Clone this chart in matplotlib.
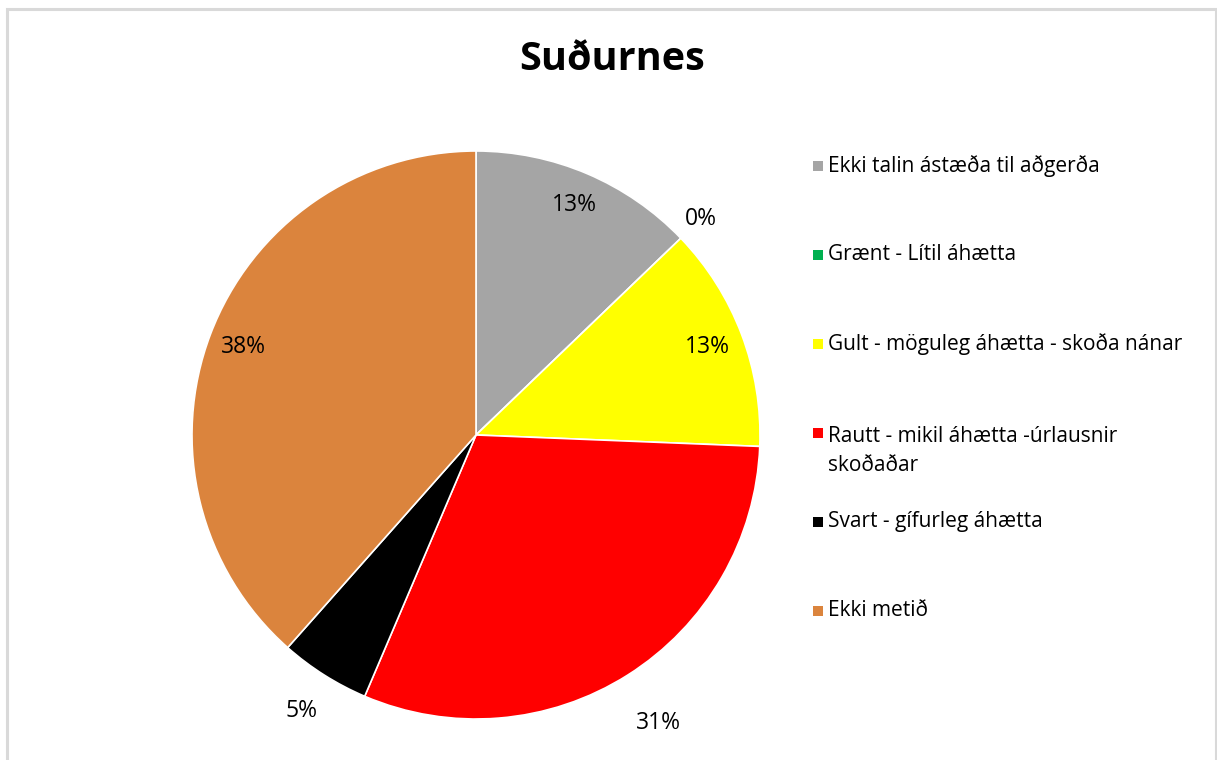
import numpy as np
from matplotlib import pyplot as plt
from matplotlib.patches import Rectangle

# data
categories = [
    'Ekki talin ástæða til aðgerða',
    'Grænt - Lítil áhætta',
    'Gult - möguleg áhætta - skoða nánar',
    'Rautt - mikil áhætta -úrlausnir\nskoðaðar',
    'Svart - gífurleg áhætta',
    'Ekki metið',
]
counts = [5, 0, 5, 12, 2, 15]
colors = ['#a5a5a5', '#00b050', '#ffff00', '#ff0000', '#000000', '#db843d']
# distance of each percent label from centre (fraction of radius)
label_dist = [0.88, 1.10, 0.87, 1.20, 1.15, 0.875]

plt.rcParams['font.family'] = ['Open Sans', 'DejaVu Sans']

fig = plt.figure(figsize=(12.17, 7.6), dpi=100)
W, H = 1217, 760

# light grey chart border
fig.patches.append(Rectangle((7 / W, -0.01), (1216 - 7) / W, 1.01 - 9 / H,
                             transform=fig.transFigure, fill=False,
                             edgecolor='#d9d9d9', linewidth=2.2))

fig.text(612 / W, 1 - 60 / H, 'Suðurnes', ha='center', va='center',
         fontsize=28.5, fontweight='bold')

cx, cy, r = 476, 435, 284
ax = fig.add_axes([(cx - r) / W, (H - cy - r) / H, 2 * r / W, 2 * r / H])
wedges, _ = ax.pie(counts, colors=colors, startangle=90, counterclock=False,
                   radius=1, wedgeprops=dict(edgecolor='white', linewidth=1.2))
ax.set_xlim(-1, 1)
ax.set_ylim(-1, 1)
ax.set_aspect('equal')
ax.axis('off')

total = sum(counts)
for w, c, d in zip(wedges, counts, label_dist):
    mid = np.deg2rad((w.theta1 + w.theta2) / 2)
    ax.text(d * np.cos(mid), d * np.sin(mid), f'{c / total:.0%}',
            ha='center', va='center', fontsize=16.5)

# legend drawn by hand to keep Excel-like spacing
ly = 166
for name, col in zip(categories, colors):
    fig.patches.append(Rectangle((813 / W, 1 - (ly + 5) / H), 10 / W, 10 / H,
                                 transform=fig.transFigure, facecolor=col,
                                 edgecolor='none'))
    if '\n' in name:
        fig.text(828 / W, 1 - (ly - 7) / H, name, ha='left', va='top',
                 fontsize=15, linespacing=1.5)
    else:
        fig.text(828 / W, 1 - ly / H, name, ha='left', va='center', fontsize=15)
    ly += 89

fig.savefig('out.png', dpi=100)
